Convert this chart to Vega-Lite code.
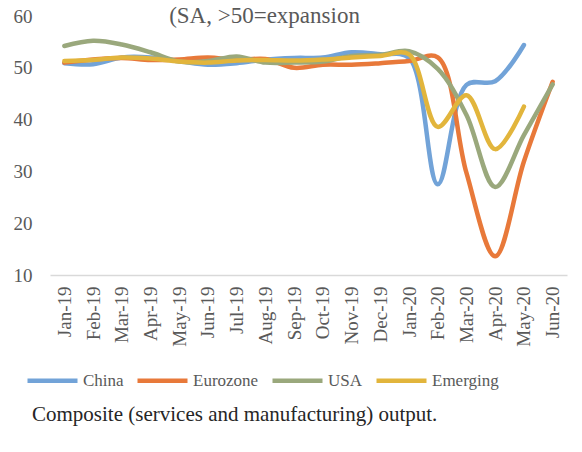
{
  "$schema": "https://vega.github.io/schema/vega-lite/v6.json",
  "autosize": {"type": "none"},
  "width": 517,
  "height": 259,
  "padding": {"left": 50, "top": 16, "right": 15, "bottom": 177},
  "background": "white",
  "config": {
    "view": {"stroke": null},
    "font": "Liberation Serif"
  },
  "title": {
    "text": "Composite (services and manufacturing) output.",
    "orient": "bottom",
    "anchor": "start",
    "frame": "group",
    "font": "Liberation Serif",
    "fontSize": 21,
    "fontWeight": "normal",
    "color": "#262626",
    "dx": -18,
    "offset": 14
  },
  "data": {
    "values": [
      {"month": "Jan-19", "region": "China", "value": 50.9},
      {"month": "Feb-19", "region": "China", "value": 50.7},
      {"month": "Mar-19", "region": "China", "value": 52.0},
      {"month": "Apr-19", "region": "China", "value": 52.0},
      {"month": "May-19", "region": "China", "value": 51.3},
      {"month": "Jun-19", "region": "China", "value": 50.6},
      {"month": "Jul-19", "region": "China", "value": 50.9},
      {"month": "Aug-19", "region": "China", "value": 51.6},
      {"month": "Sep-19", "region": "China", "value": 51.9},
      {"month": "Oct-19", "region": "China", "value": 52.0},
      {"month": "Nov-19", "region": "China", "value": 53.0},
      {"month": "Dec-19", "region": "China", "value": 52.6},
      {"month": "Jan-20", "region": "China", "value": 51.9},
      {"month": "Feb-20", "region": "China", "value": 27.5},
      {"month": "Mar-20", "region": "China", "value": 46.7},
      {"month": "Apr-20", "region": "China", "value": 47.4},
      {"month": "May-20", "region": "China", "value": 54.4},

      {"month": "Jan-19", "region": "Eurozone", "value": 51.0},
      {"month": "Feb-19", "region": "Eurozone", "value": 51.6},
      {"month": "Mar-19", "region": "Eurozone", "value": 51.9},
      {"month": "Apr-19", "region": "Eurozone", "value": 51.5},
      {"month": "May-19", "region": "Eurozone", "value": 51.6},
      {"month": "Jun-19", "region": "Eurozone", "value": 52.0},
      {"month": "Jul-19", "region": "Eurozone", "value": 51.5},
      {"month": "Aug-19", "region": "Eurozone", "value": 51.7},
      {"month": "Sep-19", "region": "Eurozone", "value": 50.0},
      {"month": "Oct-19", "region": "Eurozone", "value": 50.6},
      {"month": "Nov-19", "region": "Eurozone", "value": 50.6},
      {"month": "Dec-19", "region": "Eurozone", "value": 50.9},
      {"month": "Jan-20", "region": "Eurozone", "value": 51.3},
      {"month": "Feb-20", "region": "Eurozone", "value": 52.0},
      {"month": "Mar-20", "region": "Eurozone", "value": 29.7},
      {"month": "Apr-20", "region": "Eurozone", "value": 13.6},
      {"month": "May-20", "region": "Eurozone", "value": 31.9},
      {"month": "Jun-20", "region": "Eurozone", "value": 47.3},

      {"month": "Jan-19", "region": "USA", "value": 54.2},
      {"month": "Feb-19", "region": "USA", "value": 55.2},
      {"month": "Mar-19", "region": "USA", "value": 54.5},
      {"month": "Apr-19", "region": "USA", "value": 53.0},
      {"month": "May-19", "region": "USA", "value": 51.2},
      {"month": "Jun-19", "region": "USA", "value": 51.3},
      {"month": "Jul-19", "region": "USA", "value": 52.2},
      {"month": "Aug-19", "region": "USA", "value": 51.0},
      {"month": "Sep-19", "region": "USA", "value": 51.0},
      {"month": "Oct-19", "region": "USA", "value": 51.2},
      {"month": "Nov-19", "region": "USA", "value": 52.3},
      {"month": "Dec-19", "region": "USA", "value": 52.5},
      {"month": "Jan-20", "region": "USA", "value": 53.2},
      {"month": "Feb-20", "region": "USA", "value": 49.8},
      {"month": "Mar-20", "region": "USA", "value": 40.9},
      {"month": "Apr-20", "region": "USA", "value": 27.0},
      {"month": "May-20", "region": "USA", "value": 37.0},
      {"month": "Jun-20", "region": "USA", "value": 46.8},

      {"month": "Jan-19", "region": "Emerging", "value": 51.3},
      {"month": "Feb-19", "region": "Emerging", "value": 51.5},
      {"month": "Mar-19", "region": "Emerging", "value": 52.0},
      {"month": "Apr-19", "region": "Emerging", "value": 51.8},
      {"month": "May-19", "region": "Emerging", "value": 51.2},
      {"month": "Jun-19", "region": "Emerging", "value": 51.0},
      {"month": "Jul-19", "region": "Emerging", "value": 51.4},
      {"month": "Aug-19", "region": "Emerging", "value": 51.5},
      {"month": "Sep-19", "region": "Emerging", "value": 51.4},
      {"month": "Oct-19", "region": "Emerging", "value": 51.6},
      {"month": "Nov-19", "region": "Emerging", "value": 52.0},
      {"month": "Dec-19", "region": "Emerging", "value": 52.3},
      {"month": "Jan-20", "region": "Emerging", "value": 52.6},
      {"month": "Feb-20", "region": "Emerging", "value": 38.6},
      {"month": "Mar-20", "region": "Emerging", "value": 44.7},
      {"month": "Apr-20", "region": "Emerging", "value": 34.3},
      {"month": "May-20", "region": "Emerging", "value": 42.5}
    ]
  },
  "mark": {"type": "line", "interpolate": "catmull-rom", "strokeWidth": 4.5, "strokeCap": "round"},
  "encoding": {
    "x": {
      "field": "month",
      "type": "ordinal",
      "sort": ["Jan-19","Feb-19","Mar-19","Apr-19","May-19","Jun-19","Jul-19","Aug-19","Sep-19","Oct-19","Nov-19","Dec-19","Jan-20","Feb-20","Mar-20","Apr-20","May-20","Jun-20"],
      "scale": {"type": "point", "padding": 0.5},
      "axis": {
        "title": null,
        "labelAngle": -90,
        "labelFontSize": 19,
        "labelColor": "#595959",
        "labelPadding": 11,
        "ticks": false,
        "domainColor": "#d9d9d9",
        "domainWidth": 1.5,
        "grid": false
      }
    },
    "y": {
      "field": "value",
      "type": "quantitative",
      "scale": {"domain": [10, 60], "nice": false},
      "axis": {
        "values": [10, 20, 30, 40, 50, 60],
        "title": "(SA, >50=expansion",
        "titleAngle": 0,
        "titleX": 214,
        "titleY": -1,
        "titleAlign": "center",
        "titleBaseline": "middle",
        "titleFont": "Liberation Serif",
        "titleFontSize": 23,
        "titleFontWeight": "normal",
        "titleColor": "#595959",
        "labelFontSize": 19,
        "labelColor": "#595959",
        "labelAlign": "right",
        "labelPadding": 18,
        "ticks": false,
        "domain": false,
        "grid": false
      }
    },
    "color": {
      "field": "region",
      "type": "nominal",
      "scale": {
        "domain": ["China", "Eurozone", "USA", "Emerging"],
        "range": ["#72a3d8", "#e8793a", "#9aa87c", "#e2b53c"]
      },
      "legend": {
        "title": null,
        "orient": "none",
        "direction": "horizontal",
        "legendX": -25,
        "legendY": 337,
        "symbolType": "stroke",
        "symbolSize": 2500,
        "symbolStrokeWidth": 4.5,
        "labelFontSize": 17,
        "labelColor": "#595959",
        "labelOffset": 3,
        "columnPadding": 4
      }
    }
  }
}
